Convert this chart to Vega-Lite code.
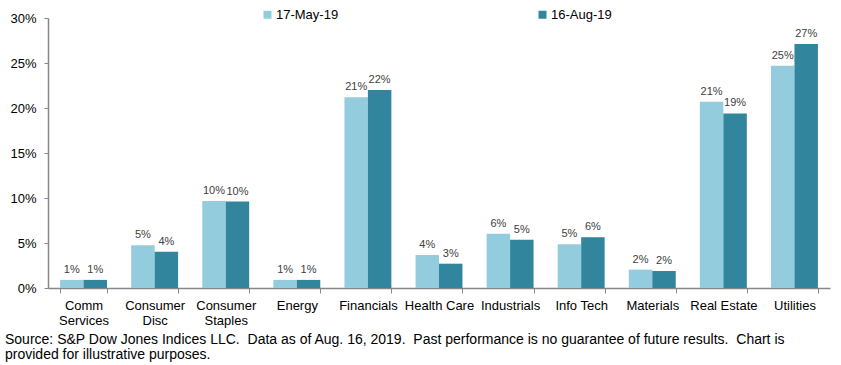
{
  "$schema": "https://vega.github.io/schema/vega-lite/v6.json",
  "width": 782,
  "height": 270,
  "autosize": "none",
  "padding": {"left": 48, "top": 18, "right": 11, "bottom": 77},
  "background": "white",
  "config": {
    "font": "Liberation Sans",
    "view": {"stroke": null}
  },
  "title": {
    "text": ["Source: S&P Dow Jones Indices LLC.\u00a0 Data as of Aug. 16, 2019.\u00a0 Past performance is no guarantee of future results.\u00a0 Chart is", "provided for illustrative purposes."],
    "orient": "bottom",
    "anchor": "start",
    "frame": "group",
    "dx": -43,
    "offset": 6,
    "fontSize": 14,
    "fontWeight": "normal",
    "color": "#000000",
    "lineHeight": 15
  },
  "data": {
    "values": [
      {"sector": "Comm|Services", "date": "17-May-19", "value": 0.009},
      {"sector": "Comm|Services", "date": "16-Aug-19", "value": 0.009},
      {"sector": "Consumer|Disc", "date": "17-May-19", "value": 0.0474},
      {"sector": "Consumer|Disc", "date": "16-Aug-19", "value": 0.0404},
      {"sector": "Consumer|Staples", "date": "17-May-19", "value": 0.0967},
      {"sector": "Consumer|Staples", "date": "16-Aug-19", "value": 0.096},
      {"sector": "Energy", "date": "17-May-19", "value": 0.009},
      {"sector": "Energy", "date": "16-Aug-19", "value": 0.009},
      {"sector": "Financials", "date": "17-May-19", "value": 0.212},
      {"sector": "Financials", "date": "16-Aug-19", "value": 0.22},
      {"sector": "Health Care", "date": "17-May-19", "value": 0.0367},
      {"sector": "Health Care", "date": "16-Aug-19", "value": 0.027},
      {"sector": "Industrials", "date": "17-May-19", "value": 0.0604},
      {"sector": "Industrials", "date": "16-Aug-19", "value": 0.0537},
      {"sector": "Info Tech", "date": "17-May-19", "value": 0.0485},
      {"sector": "Info Tech", "date": "16-Aug-19", "value": 0.0563},
      {"sector": "Materials", "date": "17-May-19", "value": 0.0204},
      {"sector": "Materials", "date": "16-Aug-19", "value": 0.0189},
      {"sector": "Real Estate", "date": "17-May-19", "value": 0.207},
      {"sector": "Real Estate", "date": "16-Aug-19", "value": 0.194},
      {"sector": "Utilities", "date": "17-May-19", "value": 0.247},
      {"sector": "Utilities", "date": "16-Aug-19", "value": 0.271}
    ]
  },
  "encoding": {
    "x": {
      "field": "sector",
      "type": "nominal",
      "sort": null,
      "scale": {"paddingInner": 0.34, "paddingOuter": 0.17},
      "axis": {
        "title": null,
        "labelAngle": 0,
        "labelExpr": "split(datum.label, '|')",
        "labelFontSize": 13,
        "labelColor": "#000000",
        "labelLineHeight": 15,
        "labelPadding": 6,
        "labelBaseline": "top",
        "tickBand": "extent",
        "tickSize": 5,
        "tickColor": "#888888",
        "domainColor": "#888888",
        "domainWidth": 1.5
      }
    },
    "xOffset": {
      "field": "date",
      "type": "nominal",
      "sort": ["17-May-19", "16-Aug-19"],
      "scale": {"paddingInner": 0, "paddingOuter": 0}
    },
    "y": {
      "field": "value",
      "type": "quantitative",
      "scale": {"domain": [0, 0.3]},
      "axis": {
        "title": null,
        "format": ".0%",
        "values": [0, 0.05, 0.1, 0.15, 0.2, 0.25, 0.3],
        "grid": false,
        "labelFontSize": 13,
        "labelColor": "#000000",
        "labelPadding": 8,
        "tickSize": 4,
        "tickColor": "#888888",
        "domainColor": "#888888",
        "domainWidth": 1.5
      }
    },
    "color": {
      "field": "date",
      "type": "nominal",
      "scale": {"domain": ["17-May-19", "16-Aug-19"], "range": ["#93CDDD", "#31859C"]},
      "legend": {
        "title": null,
        "orient": "none",
        "legendX": 213,
        "legendY": -10,
        "direction": "horizontal",
        "columns": 2,
        "columnPadding": 197,
        "symbolType": "square",
        "symbolSize": 64,
        "symbolOffset": 0,
        "labelFontSize": 13,
        "labelColor": "#000000",
        "labelOffset": 2
      }
    }
  },
  "layer": [
    {"mark": {"type": "bar"}},
    {
      "mark": {"type": "text", "baseline": "bottom", "dy": -5, "fontSize": 11, "color": "#404040"},
      "encoding": {
        "text": {"field": "value", "type": "quantitative", "format": ".0%"},
        "color": {"value": "#404040"}
      }
    }
  ]
}
